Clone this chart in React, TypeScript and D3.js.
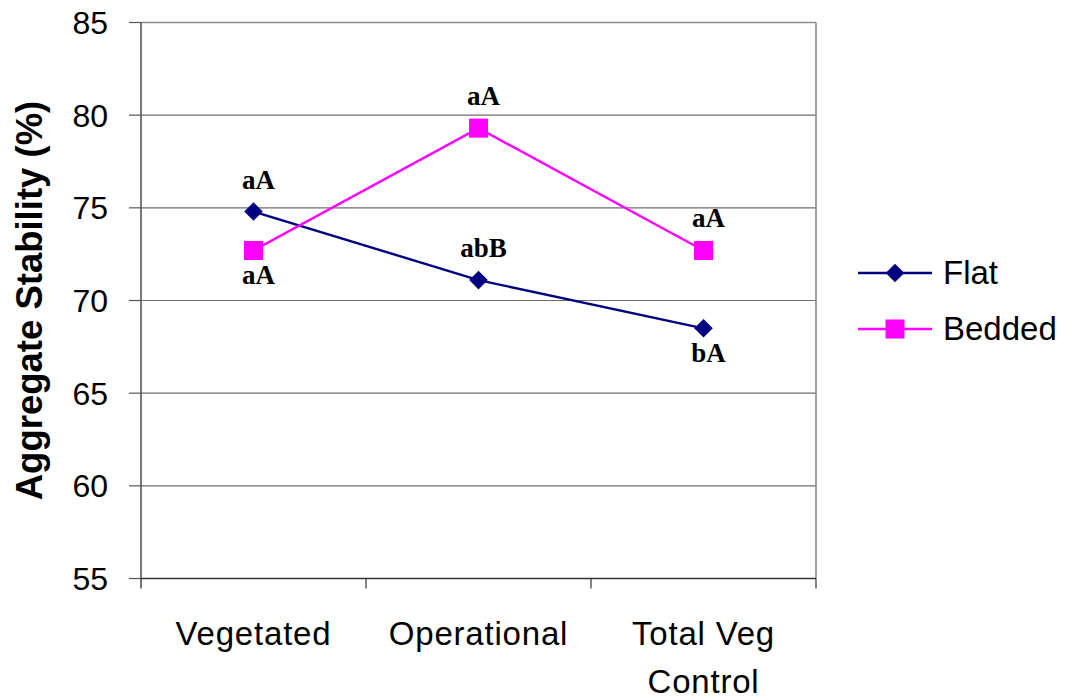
import React from "react";
import * as d3 from "d3";

const categories = ["Vegetated", "Operational", "Total Veg Control"];
const categoryLines = [["Vegetated"], ["Operational"], ["Total Veg", "Control"]];
const flatValues = [74.8, 71.1, 68.5];
const beddedValues = [72.7, 79.3, 72.7];
const flatLabels = ["aA", "abB", "bA"];
const beddedLabels = ["aA", "aA", "aA"];
const flatLabelAbove = [true, true, false];
const beddedLabelAbove = [false, true, true];
const yTicks = [55, 60, 65, 70, 75, 80, 85];
const seriesNames = ["Flat", "Bedded"];
const seriesColors = ["#000080", "#FF00FF"];

const W = 1067;
const H = 698;
const left = 141, right = 816, top = 22.5, bottom = 578.5;

export default function App() {
  const x = d3.scaleBand<string>().domain(categories).range([left, right]).padding(0);
  const y = d3.scaleLinear().domain([55, 85]).range([bottom, top]);
  const cx = (c: string) => (x(c) as number) + x.bandwidth() / 2;
  const line = d3
    .line<number>()
    .x((_, i) => cx(categories[i]))
    .y((d) => y(d));

  const sans = "'Liberation Sans', Arial, sans-serif";
  const serif = "'Liberation Serif', 'Times New Roman', serif";

  const diamond = d3.symbol().type(d3.symbolDiamond2).size(220)();

  const renderLabel = (v: number, i: number, txt: string, above: boolean, key: string) => (
    <text
      key={key}
      x={cx(categories[i]) + 5}
      y={above ? y(v) - 23 : y(v) + 34}
      textAnchor="middle"
      fontFamily={serif}
      fontWeight="bold"
      fontSize={27}
      fill="#000"
    >
      {txt}
    </text>
  );

  return (
    <svg
      width={W}
      height={H}
      style={{ position: "absolute", left: 0, top: 0, background: "#fff" }}
    >
      <rect x={0} y={0} width={W} height={H} fill="#fff" />
      {yTicks.filter((t) => t !== 55).map((t) => (
        <line key={"g" + t} x1={left} x2={right} y1={y(t)} y2={y(t)} stroke="#6e6e6e" strokeWidth={1.2} />
      ))}
      <line x1={left} x2={right} y1={top} y2={top} stroke="#8a8a8a" strokeWidth={1.6} />
      <line x1={right} x2={right} y1={top} y2={bottom} stroke="#8a8a8a" strokeWidth={1.6} />
      <line x1={left} x2={left} y1={top} y2={bottom + 10} stroke="#555" strokeWidth={1.6} />
      {yTicks.map((t) => (
        <g key={"yt" + t}>
          <line x1={left - 12} x2={left} y1={y(t)} y2={y(t)} stroke="#555" strokeWidth={1.2} />
          <text x={108} y={y(t)} dy="0.36em" textAnchor="end" fontFamily={sans} fontSize={32} fill="#000">
            {t}
          </text>
        </g>
      ))}
      <line x1={left} x2={right} y1={bottom} y2={bottom} stroke="#333" strokeWidth={1.6} />
      {categories.map((c) => (
        <line
          key={"xt" + c}
          x1={(x(c) as number) + x.bandwidth()}
          x2={(x(c) as number) + x.bandwidth()}
          y1={bottom}
          y2={bottom + 10}
          stroke="#333"
          strokeWidth={1.2}
        />
      ))}
      {categories.map((c, i) => (
        <text key={"xl" + c} textAnchor="middle" fontFamily={sans} fontSize={33} letterSpacing={0.8} fill="#000">
          {categoryLines[i].map((ln, j) => (
            <tspan key={j} x={cx(c)} y={645 + j * 48}>
              {ln}
            </tspan>
          ))}
        </text>
      ))}
      <text
        transform={`translate(42, ${(top + bottom) / 2}) rotate(-90)`}
        textAnchor="middle"
        fontFamily={sans}
        fontWeight="bold"
        fontSize={36.5}
        fill="#000"
      >
        Aggregate Stability (%)
      </text>
      <path d={line(flatValues) || ""} fill="none" stroke={seriesColors[0]} strokeWidth={2.4} />
      <path d={line(beddedValues) || ""} fill="none" stroke={seriesColors[1]} strokeWidth={2.4} />
      {flatValues.map((v, i) => (
        <path
          key={"fm" + i}
          d={diamond || ""}
          transform={`translate(${cx(categories[i])},${y(v)})`}
          fill={seriesColors[0]}
        />
      ))}
      {beddedValues.map((v, i) => (
        <rect
          key={"bm" + i}
          x={cx(categories[i]) - 9.5}
          y={y(v) - 9.5}
          width={19}
          height={19}
          fill={seriesColors[1]}
        />
      ))}
      {flatValues.map((v, i) => renderLabel(v, i, flatLabels[i], flatLabelAbove[i], "fl" + i))}
      {beddedValues.map((v, i) => renderLabel(v, i, beddedLabels[i], beddedLabelAbove[i], "bl" + i))}
      {seriesNames.map((s, i) => {
        const ly = 273 + i * 56;
        return (
          <g key={"lg" + s}>
            <line x1={858} x2={932} y1={ly} y2={ly} stroke={seriesColors[i]} strokeWidth={2.4} />
            {i === 0 ? (
              <path d={diamond || ""} transform={`translate(895,${ly})`} fill={seriesColors[i]} />
            ) : (
              <rect x={885.5} y={ly - 9.5} width={19} height={19} fill={seriesColors[i]} />
            )}
            <text x={943} y={ly + 11} fontFamily={sans} fontSize={33} fill="#000">
              {s}
            </text>
          </g>
        );
      })}
    </svg>
  );
}
